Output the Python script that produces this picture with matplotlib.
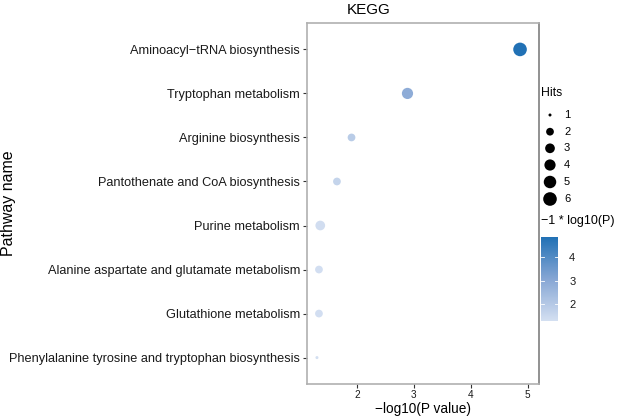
import matplotlib
matplotlib.use("Agg")
import matplotlib.pyplot as plt
import numpy as np
from matplotlib.colors import LinearSegmentedColormap, Normalize
import matplotlib.colorbar as mcolorbar

plt.rcParams['font.family'] = ['Liberation Sans', 'DejaVu Sans']

pathways = [
    "Aminoacyl\u2212tRNA biosynthesis",
    "Tryptophan metabolism",
    "Arginine biosynthesis",
    "Pantothenate and CoA biosynthesis",
    "Purine metabolism",
    "Alanine aspartate and glutamate metabolism",
    "Glutathione metabolism",
    "Phenylalanine tyrosine and tryptophan biosynthesis",
]
neglogp = [4.865, 2.888, 1.905, 1.649, 1.356, 1.333, 1.333, 1.298]
hits = [6, 4, 2, 2, 3, 2, 2, 1]
hit_levels = [1, 2, 3, 4, 5, 6]
cbar_ticks = [2, 3, 4]

W, H = 617, 418
fig = plt.figure(figsize=(W / 100, H / 100), dpi=100)

def px2fig(x0, y0, x1, y1):
    return [x0 / W, 1 - y1 / H, (x1 - x0) / W, (y1 - y0) / H]

cmap = LinearSegmentedColormap.from_list("kegg", ["#D3DFF1", "#86A6D4", "#2171B5"])
vmin, vmax = min(neglogp), max(neglogp)
norm = Normalize(vmin=vmin, vmax=vmax)

def size_pts(h):
    lo, hi = min(hit_levels), max(hit_levels)
    t = (np.asarray(h, float) - lo) / (hi - lo)
    dpx = 3.0 + np.sqrt(t) * (13.6 - 3.0)
    return (dpx * 0.72) ** 2

ax = fig.add_axes(px2fig(307, 23, 539, 384))
ypos = np.arange(len(pathways))[::-1]
ax.scatter(neglogp, ypos, s=size_pts(hits), c=neglogp, cmap=cmap, norm=norm,
           linewidths=0, zorder=3)
ax.set_xlim(1.123, 5.198)
ax.set_ylim(-0.6, len(pathways) - 1 + 0.6)
ax.set_yticks(ypos)
ax.set_yticklabels(pathways, fontsize=9.2, color="#1a1a1a")
ax.set_xticks([2, 3, 4, 5])
ax.tick_params(axis='x', labelsize=7.2, colors="#333333", length=3, width=0.8,
               pad=1.5, labelcolor="#1a1a1a")
ax.tick_params(axis='y', colors="#333333", length=3, width=0.8, pad=2,
               labelcolor="#1a1a1a")
for side in ['left', 'bottom', 'top', 'right']:
    ax.spines[side].set_color("#b0b0b0")
    ax.spines[side].set_linewidth(1.2)
ax.spines['right'].set_color("#7f7f7f")
ax.set_xlabel("\u2212log10(P value)", fontsize=9.8, labelpad=1)
ax.set_ylabel("Pathway name", fontsize=11.5)
ax.yaxis.set_label_coords((16 - 307) / 232, 0.5)

fig.text(369 / W, 1 - 10 / H, "KEGG", fontsize=11, ha='center', va='center')

# legend overlay axes in pixel coordinates
lax = fig.add_axes([0, 0, 1, 1])
lax.set_xlim(0, W)
lax.set_ylim(H, 0)
lax.axis('off')
lax.text(541, 93, "Hits", fontsize=8.8, va='center', ha='left')
ly = [115, 131.7, 148.3, 165, 182, 199]
lax.scatter([550] * len(hit_levels), ly, s=size_pts(hit_levels), c='black', linewidths=0)
for yy, lv in zip(ly, hit_levels):
    lax.text(564, yy, str(lv), fontsize=8.0, va='center', ha='left')
lax.text(541, 221, "\u22121 * log10(P)", fontsize=9.0, va='center', ha='left')

cax = fig.add_axes(px2fig(541, 237, 558, 320.7))
cb = mcolorbar.ColorbarBase(cax, cmap=cmap, norm=norm, orientation='vertical')
cb.outline.set_visible(False)
cb.set_ticks(cbar_ticks)
cax.tick_params(labelsize=8.0, length=0, pad=8, labelcolor="#1a1a1a")
for t in cbar_ticks:
    cax.plot([0, 0.2], [t, t], color='white', lw=0.6, transform=cax.get_yaxis_transform())
    cax.plot([0.8, 1.0], [t, t], color='white', lw=0.6, transform=cax.get_yaxis_transform())

fig.savefig("out.png", dpi=100)
